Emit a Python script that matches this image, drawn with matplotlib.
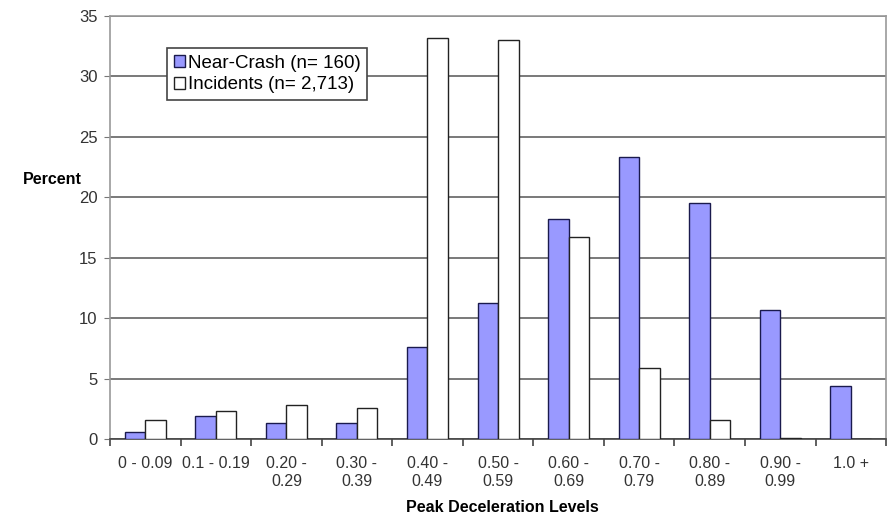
import numpy as np
import matplotlib
matplotlib.use("Agg")
import matplotlib.pyplot as plt

plt.rcParams['font.family'] = ['Liberation Sans', 'DejaVu Sans']

categories = ["0 - 0.09", "0.1 - 0.19", "0.20 -\n0.29", "0.30 -\n0.39", "0.40 -\n0.49",
              "0.50 -\n0.59", "0.60 -\n0.69", "0.70 -\n0.79", "0.80 -\n0.89", "0.90 -\n0.99", "1.0 +"]
near_crash = [0.6, 1.9, 1.3, 1.3, 7.6, 11.3, 18.2, 23.3, 19.5, 10.7, 4.4]
incidents = [1.6, 2.3, 2.8, 2.6, 33.2, 33.0, 16.7, 5.9, 1.6, 0.1, 0.0]

fig = plt.figure(figsize=(8.9, 5.16), dpi=100)
ax = fig.add_axes([0.1236, 0.149, 0.872, 0.82])

x = np.arange(len(categories))
w = 0.29
ax.bar(x - w / 2, near_crash, w, color="#9999ff", edgecolor="#1a1a4d", linewidth=1.0,
       label="Near-Crash (n= 160)", zorder=3)
ax.bar(x + w / 2, incidents, w, color="white", edgecolor="#222222", linewidth=1.0,
       label="Incidents (n= 2,713)", zorder=3)

ax.set_xlim(-0.5, len(categories) - 0.5)
ax.set_ylim(0, 35)
ax.set_yticks(range(0, 36, 5))
ax.yaxis.grid(True, color="#6e6e6e", linewidth=1.3, zorder=0)

# ticks between categories
ax.set_xticks(np.arange(-0.5, len(categories), 1.0))
ax.set_xticklabels([])
ax.set_xticks(x, minor=True)
ax.set_xticklabels(categories, minor=True, fontsize=11.5, color="#333333", linespacing=1.25)
ax.tick_params(axis="x", which="minor", length=0, pad=12)
ax.tick_params(axis="x", which="major", length=5, color="#444444", width=1.2)
ax.tick_params(axis="y", length=4, color="#777777", labelsize=12, labelcolor="#333333", pad=5)

for s in ax.spines.values():
    s.set_color("#999999")
    s.set_linewidth(1.2)
ax.spines["bottom"].set_color("#444444")

fig.text(0.026, 1 - 180 / 516, "Percent", fontsize=11.5, fontweight="bold", va="center")
fig.text(0.565, 1 - 507 / 516, "Peak Deceleration Levels", fontsize=11.5, fontweight="bold",
         ha="center", va="center")

leg = ax.legend(loc="upper left", bbox_to_anchor=(0.074, 0.924), fontsize=13.5,
                frameon=True, fancybox=False, handlelength=0.6, handleheight=0.6,
                handletextpad=0.15, borderpad=0.35, labelspacing=0.25, borderaxespad=0)
leg.get_frame().set_edgecolor("#444444")
leg.get_frame().set_linewidth(1.2)
leg.get_frame().set_alpha(1)

fig.savefig("out.png", dpi=100)
